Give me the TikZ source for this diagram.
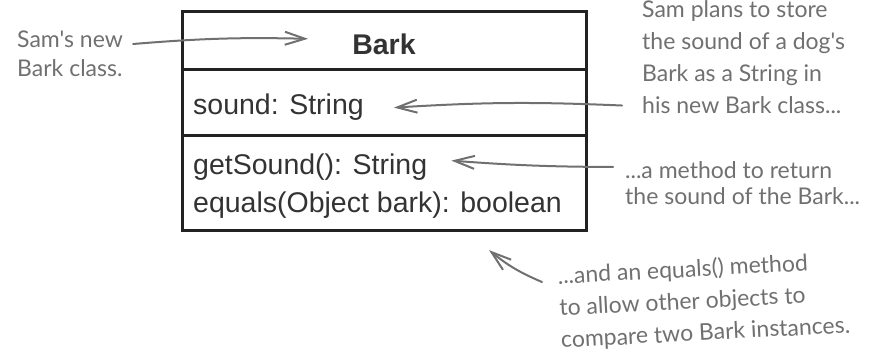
\documentclass[tikz,border=0pt]{standalone}
\usepackage{fontspec}
\setmainfont{Liberation Sans}
\newfontfamily\handfont{Lato}
\usetikzlibrary{arrows.meta,calc}
\definecolor{inkgray}{HTML}{222222}
\definecolor{notegray}{HTML}{707070}

\begin{document}
\begin{tikzpicture}[x=1pt,y=-1pt,>={Straight Barb[length=20pt,width=13pt,line width=2pt]},
  classline/.style={draw=inkgray,line width=3pt},
  member/.style={anchor=base west,inner sep=0pt,text=black!80,font=\fontsize{28.5}{30}\selectfont},
  note/.style={anchor=north west,inner sep=0pt,align=left,text=notegray,font=\handfont\fontsize{23}{31}\selectfont},
  pointer/.style={->,draw=notegray,line width=2pt,line cap=round}]
\useasboundingbox (0,0) rectangle (873,363);
% class box
\draw[classline] (182,12) rectangle (586,231);
\draw[classline] (182,70) -- (586,70);
\draw[classline] (182,136) -- (586,136);
\node[member,anchor=base,font=\bfseries\fontsize{28.5}{30}\selectfont] (title) at (384,55) {Bark};
\node[member] (sound) at (193,115) {sound: String};
\node[member] (getsound) at (193,175) {getSound(): String};
\node[member] (equals) at (193,213) {equals(Object bark): boolean};
% notes
\node[note,font=\handfont\fontsize{23}{29}\selectfont] (samnew) at (17,31) {Sam's new\\Bark class.};
\node[note,font=\handfont\fontsize{23}{32}\selectfont] (plans) at (642,0) {Sam plans to store\\the sound of a dog's\\Bark as a String in\\his new Bark class...};
\node[note,font=\handfont\fontsize{23}{26}\selectfont] (method) at (625,161) {...a method to return\\the sound of the Bark...};
\node[note,rotate=3,font=\handfont\fontsize{23}{32}\selectfont] (eqnote) at (557,266) {...and an equals() method\\to allow other objects to\\compare two Bark instances.};
% pointers
\draw[pointer] ($(samnew.north east)+(10,13)$) to[bend left=3] ($(title.west)+(-44,-6)$);
\draw[pointer] ($(plans.south west)+(-20,-8)$) to[bend right=3] ($(sound.east)+(30,0)$);
\draw[pointer] ($(method.north west)+(-12,6)$) to[bend left=2] ($(getsound.east)+(24,-7)$);
\draw[pointer] ($(eqnote.north west)+(-15,16)$) to[bend left=8] ($(equals.south east)+(-73,31)$);
\end{tikzpicture}
\end{document}
